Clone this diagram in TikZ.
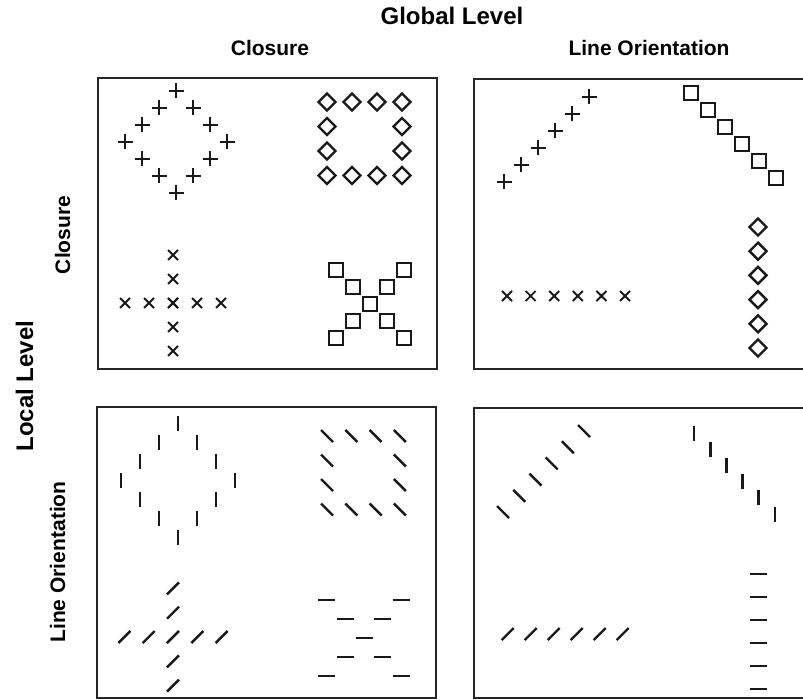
\documentclass[tikz,border=0pt]{standalone}
\usepackage{fontspec}
\setmainfont{Liberation Sans}
\usepackage{tikz}

\tikzset{
  panel/.style={draw=black!85, line width=2.2pt},
  mk/.style={draw=black!90, line width=2.4pt},
  lvl/.style={font=\bfseries\fontsize{24}{28}\selectfont},
  sub/.style={font=\bfseries\fontsize{21}{25}\selectfont},
  plusmk/.pic={\draw[mk] (-7.5,0) -- (7.5,0) (0,-7.5) -- (0,7.5);},
  crossmk/.pic={\draw[mk, line width=1.9pt] (-5,-5) -- (5,5) (-5,5) -- (5,-5);},
  diamk/.pic={\draw[mk] (-8.5,0) -- (0,-8.5) -- (8.5,0) -- (0,8.5) -- cycle;},
  sqmk/.pic={\draw[mk] (-7,-7) rectangle (7,7);},
  vbarmk/.pic={\draw[mk, line width=2.8pt] (0,-7.5) -- (0,7.5);},
  hbarmk/.pic={\draw[mk, line width=2.8pt] (-8.5,0) -- (8.5,0);},
  slashmk/.pic={\draw[mk] (-6,6) -- (6,-6);},
  bslashmk/.pic={\draw[mk] (-6,-6) -- (6,6);}
}

\begin{document}
\begin{tikzpicture}[x=1pt, y=-1pt]
  \useasboundingbox (0,0) rectangle (803,700);
  \clip (0,0) rectangle (803,700);

  % headings
  \node[lvl, anchor=base] (global) at (452,25) {Global Level};
  \node[sub, anchor=base] (gclos) at (270,56) {Closure};
  \node[sub, anchor=base] (gline) at (649,56) {Line Orientation};
  \node[lvl, anchor=base, rotate=90] (local) at (33,386) {Local Level};
  \node[sub, anchor=base, rotate=90] (lclos) at (70,235) {Closure};
  \node[sub, anchor=base, rotate=90] (lline) at (65,562) {Line Orientation};

  % the four panels
  \draw[panel] (98,78) rectangle (437,369);
  \draw[panel] (474,79) rectangle (812,369);
  \draw[panel] (97,407) rectangle (436,698);
  \draw[panel] (474,408) rectangle (812,698);

  % --- local closure, global closure
  \foreach \i/\j in {0/-3,1/-2,2/-1,3/0,2/1,1/2,0/3,-1/2,-2/1,-3/0,-2/-1,-1/-2}
    \pic at (176+17*\i, 142+17*\j) {plusmk};
  \foreach \i/\j in {0/0,1/0,2/0,3/0,0/1,3/1,0/2,3/2,0/3,1/3,2/3,3/3}
    \pic at (327+25*\i, 102+24.5*\j) {diamk};
  \foreach \k in {-2,...,2}{
    \pic at (173+24*\k, 303) {crossmk};
    \pic at (173, 303+24*\k) {crossmk};
  }
  \foreach \k in {-2,...,2}{
    \pic at (370+17*\k, 304+17*\k) {sqmk};
    \pic at (370+17*\k, 304-17*\k) {sqmk};
  }

  % --- local closure, global line orientation
  \foreach \k in {0,...,5}{
    \pic at (504+17*\k, 182-17*\k) {plusmk};     % rising line
    \pic at (691+17*\k, 93+17*\k) {sqmk};        % falling line
    \pic at (507+23.6*\k, 296) {crossmk};        % row
    \pic at (758, 227+24.2*\k) {diamk};          % column
  }

  % --- local line orientation, global closure
  \foreach \i/\j in {0/-3,1/-2,2/-1,3/0,2/1,1/2,0/3,-1/2,-2/1,-3/0,-2/-1,-1/-2}
    \pic at (178+19*\i, 480+19*\j) {vbarmk};
  \foreach \i/\j in {0/0,1/0,2/0,3/0,0/1,3/1,0/2,3/2,0/3,1/3,2/3,3/3}
    \pic at (327+24.3*\i, 436+24.5*\j) {bslashmk};
  \foreach \k in {-2,...,2}{
    \pic at (173+24.3*\k, 637) {slashmk};
    \pic at (173, 637+24.3*\k) {slashmk};
  }
  \foreach \k in {-2,...,2}{
    \pic at (364+18.7*\k, 638+19*\k) {hbarmk};
    \pic at (364+18.7*\k, 638-19*\k) {hbarmk};
  }

  % --- local line orientation, global line orientation
  \foreach \k in {0,...,5}{
    \pic at (503+16.2*\k, 512-16.2*\k) {bslashmk};
    \pic at (694+16.2*\k, 433+16.2*\k) {vbarmk};
    \pic at (507.7+23*\k, 634) {slashmk};
    \pic at (758, 574+23*\k) {hbarmk};
  }
\end{tikzpicture}
\end{document}
